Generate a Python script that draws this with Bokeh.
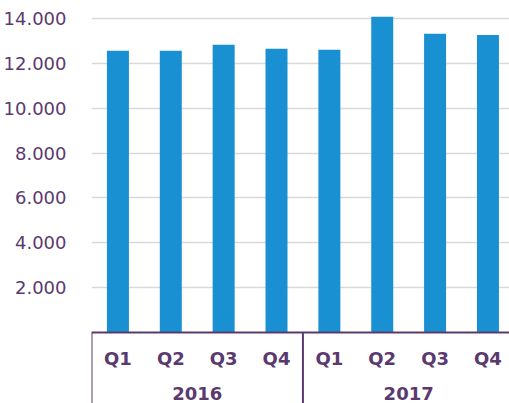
from bokeh.plotting import figure
from bokeh.models import Range1d, FixedTicker, ColumnDataSource
from bokeh.core.properties import value
from bokeh.embed import file_html
from bokeh.resources import INLINE

years = ["2016", "2017"]
quarters = ["Q1", "Q2", "Q3", "Q4"]
values_2016 = [12560, 12560, 12830, 12650]
values_2017 = [12610, 14080, 13320, 13270]
tick_values = [2000, 4000, 6000, 8000, 10000, 12000, 14000]
tick_labels = ["2.000", "4.000", "6.000", "8.000", "10.000", "12.000", "14.000"]

PURPLE = "#5a3a6e"
BLUE = "#1890d2"
FONT = "DejaVu Sans"

all_values = values_2016 + values_2017
n = len(all_values)
xs = [i + 0.5 for i in range(n)]
qlabels = quarters * len(years)

px_per_unit = 44.85 / 2000.0
y_top = 332 / px_per_unit
y_bottom = -(403 - 332) / px_per_unit
x_end = (509 - 91) / 52.86

p = figure(width=509, height=403, output_backend="svg", toolbar_location=None,
           x_range=Range1d(0, x_end), y_range=Range1d(y_bottom, y_top),
           min_border_left=91, min_border_right=0, min_border_top=0, min_border_bottom=0,
           x_axis_location=None)
p.outline_line_color = None
p.xgrid.visible = False

yax = p.yaxis[0]
yax.ticker = FixedTicker(ticks=tick_values)
yax.major_label_overrides = {v: l for v, l in zip(tick_values, tick_labels)}
yax.axis_line_color = None
yax.major_tick_line_color = None
yax.minor_tick_line_color = None
yax.major_label_standoff = 19
yax.major_label_text_font = FONT
yax.major_label_text_font_size = "18px"
yax.major_label_text_color = PURPLE

p.ygrid.ticker = FixedTicker(ticks=tick_values)
p.ygrid.grid_line_color = "#d9d9d9"
p.ygrid.grid_line_width = 1.3

src = ColumnDataSource(dict(x=xs, top=all_values, q=qlabels))
p.vbar(x="x", top="top", bottom=0, width=0.416, source=src, color=BLUE, line_color=None)

# category axis frame
p.segment(x0=[0], y0=[0], x1=[n], y1=[0], line_color=PURPLE, line_width=2)
bounds = [i * len(quarters) for i in range(len(years) + 1)]
p.segment(x0=bounds, y0=[0] * len(bounds), x1=bounds, y1=[y_bottom] * len(bounds),
          line_color=PURPLE, line_width=2)

p.text(x="x", y=0, text="q", source=src, text_font=value(FONT), text_font_size="18px",
       text_font_style="bold", text_color=PURPLE, text_align="center",
       text_baseline="middle", y_offset=26)

ycent = [i * len(quarters) + len(quarters) / 2 for i in range(len(years))]
p.text(x=ycent, y=[0] * len(years), text=years, text_font=value(FONT), text_font_size="18px",
       text_font_style="bold", text_color=PURPLE, text_align="center",
       text_baseline="middle", y_offset=61)

open("out.html", "w").write(file_html(p, INLINE))
